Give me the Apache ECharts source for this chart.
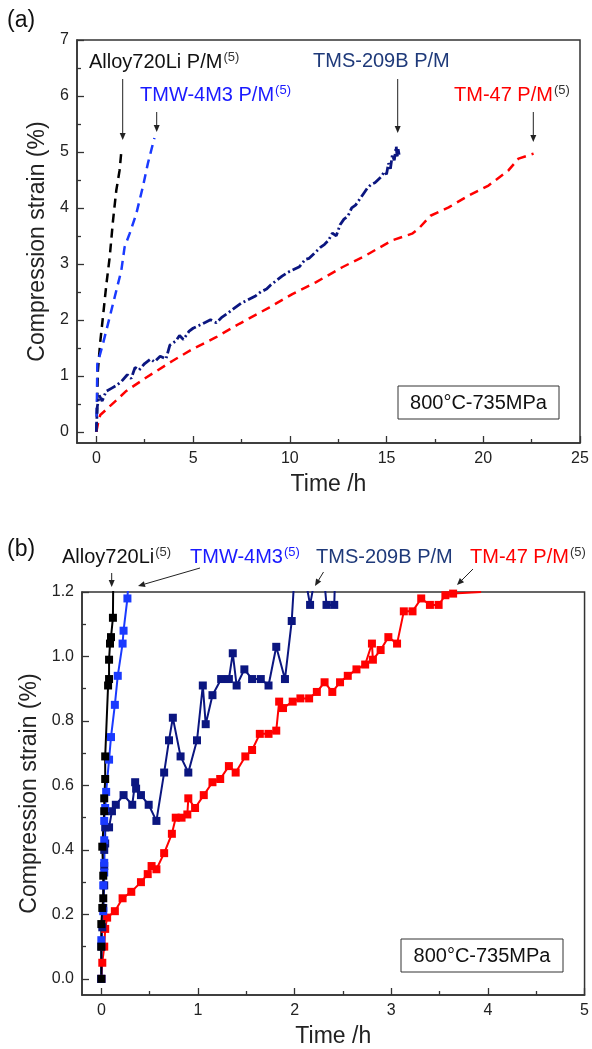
<!DOCTYPE html>
<html><head><meta charset="utf-8">
<script src="https://cdn.jsdelivr.net/npm/echarts@6/dist/echarts.min.js"></script>
<style>html,body{margin:0;padding:0;background:#fff}#c{width:592px;height:1049px}</style>
</head><body><div id="c"></div>
<script>
const FONT = '"Liberation Sans", Arial, Helvetica, sans-serif';

// ---------- Panel (a) data: [time h, strain %] ----------
const aAlloy720Li = [[0,0],[0.04,0.5],[0.08,1.09],[0.2,1.6],[0.34,2.05],[0.52,2.64],[0.69,3.12],[0.86,3.77],[1.03,4.31],[1.2,4.67],[1.29,5.0]];
const aTMW4M3 = [[0,0],[0.03,0.6],[0.05,1.21],[0.34,1.57],[0.69,2.05],[1.03,2.52],[1.29,2.88],[1.46,3.3],[1.72,3.54],[2.06,3.89],[2.4,4.37],[2.66,4.79],[3.0,5.25]];
const aTMS209B = [[0,0],[0.05,0.45],[0.15,0.65],[0.3,0.55],[0.5,0.72],[0.8,0.78],[1.0,0.82],[1.3,0.9],[1.6,1.02],[1.8,0.95],[2.0,1.15],[2.2,1.1],[2.5,1.22],[2.8,1.3],[3.0,1.25],[3.3,1.35],[3.6,1.3],[3.8,1.55],[4.1,1.62],[4.3,1.72],[4.5,1.65],[4.8,1.8],[5.0,1.85],[5.3,1.9],[5.6,1.95],[5.9,2.0],[6.2,1.95],[6.5,2.05],[6.8,2.12],[7.1,2.2],[7.5,2.3],[7.8,2.35],[8.2,2.42],[8.5,2.5],[8.8,2.55],[9.0,2.62],[9.3,2.7],[9.6,2.78],[9.9,2.85],[10.2,2.9],[10.5,2.95],[10.8,3.08],[11.0,3.1],[11.3,3.2],[11.6,3.3],[11.8,3.35],[12.0,3.42],[12.2,3.55],[12.4,3.5],[12.6,3.7],[12.8,3.8],[13.0,3.85],[13.2,4.0],[13.4,4.05],[13.6,4.15],[13.8,4.25],[14.0,4.35],[14.2,4.42],[14.4,4.45],[14.7,4.55],[14.9,4.65],[15.0,4.6],[15.1,4.8],[15.2,4.7],[15.3,4.95],[15.4,4.85],[15.5,5.1],[15.55,4.9],[15.6,5.05],[15.65,4.95]];
const aTM47 = [[0,0],[0.08,0.14],[0.2,0.3],[0.52,0.4],[1.55,0.73],[2.58,0.97],[3.95,1.27],[4.98,1.48],[6.19,1.69],[7.39,1.93],[8.93,2.22],[10.13,2.46],[11.34,2.67],[12.71,2.94],[13.92,3.15],[15.29,3.42],[16.32,3.54],[16.66,3.63],[17.27,3.86],[18.21,4.01],[19.24,4.22],[20.27,4.4],[21.3,4.67],[21.82,4.88],[22.6,4.97]];

// ---------- Panel (b) data ----------
const bAlloy720Li = [[0,0],[0,0.1],[0,0.17],[0.01,0.22],[0.02,0.25],[0.02,0.32],[0.01,0.41],[0.03,0.52],[0.03,0.56],[0.04,0.62],[0.04,0.69],[0.07,0.91],[0.08,0.93],[0.08,0.99],[0.09,1.04],[0.1,1.06],[0.12,1.12],[0.125,1.3]];
const bTMW4M3 = [[0,0],[0,0.12],[0.02,0.21],[0.02,0.29],[0.03,0.33],[0.03,0.36],[0.03,0.43],[0.03,0.49],[0.04,0.53],[0.05,0.58],[0.08,0.68],[0.1,0.75],[0.14,0.85],[0.17,0.94],[0.22,1.04],[0.23,1.08],[0.27,1.18],[0.285,1.26]];
const bTMS209B = [[0,0],[0,0.1],[0.01,0.16],[0.02,0.22],[0.03,0.29],[0.03,0.35],[0.03,0.4],[0.04,0.42],[0.04,0.47],[0.08,0.47],[0.11,0.52],[0.15,0.54],[0.23,0.57],[0.32,0.54],[0.35,0.61],[0.36,0.59],[0.41,0.57],[0.49,0.54],[0.57,0.49],[0.65,0.64],[0.7,0.74],[0.74,0.81],[0.82,0.69],[0.9,0.64],[0.99,0.74],[1.05,0.91],[1.08,0.79],[1.15,0.88],[1.24,0.93],[1.32,0.93],[1.36,1.01],[1.4,0.91],[1.48,0.96],[1.56,0.93],[1.65,0.93],[1.73,0.91],[1.81,1.03],[1.9,0.93],[1.97,1.11],[2.0,1.26],[2.1,1.26],[2.16,1.16],[2.22,1.26],[2.3,1.26],[2.33,1.16],[2.41,1.16],[2.42,1.26]];
const bTM47 = [[0,0],[0.01,0.05],[0.03,0.1],[0.04,0.155],[0.06,0.19],[0.14,0.21],[0.22,0.25],[0.31,0.27],[0.41,0.3],[0.48,0.325],[0.52,0.35],[0.57,0.34],[0.65,0.39],[0.73,0.45],[0.77,0.5],[0.83,0.5],[0.89,0.51],[0.9,0.56],[0.97,0.53],[1.06,0.57],[1.15,0.61],[1.23,0.62],[1.32,0.66],[1.39,0.64],[1.49,0.69],[1.56,0.71],[1.64,0.76],[1.73,0.76],[1.81,0.77],[1.84,0.86],[1.88,0.84],[1.98,0.86],[2.06,0.87],[2.15,0.87],[2.23,0.89],[2.31,0.92],[2.39,0.89],[2.47,0.92],[2.55,0.94],[2.64,0.96],[2.73,0.975],[2.8,1.04],[2.81,0.99],[2.89,1.02],[2.97,1.06],[3.06,1.04],[3.13,1.14],[3.22,1.14],[3.31,1.18],[3.4,1.16],[3.49,1.16],[3.56,1.19],[3.64,1.195],[3.93,1.2]];

// ---------- Tick values ----------
const aXTicks = [0,5,10,15,20,25];
const aXMinor = [2.5,7.5,12.5,17.5,22.5];
const aYTicks = [0,1,2,3,4,5,6,7];
const aYMinor = [0.5,1.5,2.5,3.5,4.5,5.5,6.5];
const bXTicks = [0,1,2,3,4,5];
const bXMinor = [0.5,1.5,2.5,3.5,4.5];
const bYTicks = [0,0.2,0.4,0.6,0.8,1.0,1.2];
const bYMinor = [0.1,0.3,0.5,0.7,0.9,1.1];

const AX = '#333';
function axisPair(dim, gridIndex, min, max, ticks, minor, fmt, name, nameGap) {
  const major = {
    type: 'value', gridIndex, min, max,
    axisLine: { show: true, onZero: false, lineStyle: { color: AX, width: 1.5 } },
    axisTick: { show: true, inside: true, length: 7, customValues: ticks, lineStyle: { color: AX, width: 1.3 } },
    axisLabel: { show: true, customValues: ticks, formatter: fmt, fontSize: 16, color: '#222', fontFamily: FONT, margin: 8 },
    splitLine: { show: false },
    name, nameLocation: 'middle', nameGap,
    nameTextStyle: { fontSize: 23, color: '#222', fontFamily: FONT }
  };
  const mnr = {
    type: 'value', gridIndex, min, max,
    axisLine: { show: false, onZero: false },
    axisTick: { show: true, inside: true, length: 4, customValues: minor, lineStyle: { color: AX, width: 1.3 } },
    axisLabel: { show: false },
    splitLine: { show: false }
  };
  if (dim === 'x') { major.position = 'bottom'; mnr.position = 'bottom'; }
  else { major.position = 'left'; mnr.position = 'left'; }
  return [major, mnr];
}
const intFmt = v => String(Math.round(v));
const oneFmt = v => v.toFixed(1);

const xAxes = [
  ...axisPair('x', 0, -1, 25, aXTicks, aXMinor, intFmt, 'Time /h', 30),
  ...axisPair('x', 1, -0.2, 5, bXTicks, bXMinor, intFmt, 'Time /h', 30)
];
const yAxes = [
  ...axisPair('y', 0, -0.2, 7, aYTicks, aYMinor, intFmt, 'Compression strain (%)', 27),
  ...axisPair('y', 1, -0.05, 1.2, bYTicks, bYMinor, oneFmt, 'Compression strain (%)', 32)
];

const BLACK = '#000000', BLUE = '#1a3aff', NAVY = '#0b1680', RED = '#ff0000';
function dashLine(data, color, dash, width, grid) {
  return { type: 'line', data, xAxisIndex: grid * 2, yAxisIndex: grid * 2, symbol: 'none',
    lineStyle: { color, width, type: dash }, animation: false, z: 3 };
}
function markLineS(data, color) {
  const d = data.map(p => (p[1] >= 1.2 ? { value: p, symbol: 'none' } : p));
  return { type: 'line', data: d, xAxisIndex: 2, yAxisIndex: 2, symbol: 'rect', symbolSize: 8,
    showAllSymbol: true, itemStyle: { color }, lineStyle: { color, width: 2 }, animation: false, z: 3 };
}

// ---------- annotations ----------
const mctx = document.createElement('canvas').getContext('2d');
function tw(t, size) { mctx.font = size + 'px ' + FONT; return mctx.measureText(t).width; }
function label(main, sup, x, cy, color, supColor) {
  const els = [{ type: 'text', x, y: cy, z: 100,
    style: { text: main, fill: color, fontSize: 20, fontFamily: FONT, verticalAlign: 'middle', align: 'left' } }];
  if (sup) {
    els.push({ type: 'text', x: x + tw(main, 20) + 1, y: cy - 5, z: 100,
      style: { text: sup, fill: supColor || '#333', fontSize: 13, fontFamily: FONT, verticalAlign: 'middle', align: 'left' } });
  }
  return els;
}
function arrow(x1, y1, x2, y2) {
  const a = Math.atan2(y2 - y1, x2 - x1), L = 7, W = 3;
  const bx = x2 - L * Math.cos(a), by = y2 - L * Math.sin(a);
  const px = -Math.sin(a) * W, py = Math.cos(a) * W;
  return [
    { type: 'line', z: 100, shape: { x1, y1, x2: bx, y2: by }, style: { stroke: '#222', lineWidth: 1 } },
    { type: 'polygon', z: 100, shape: { points: [[x2, y2], [bx + px, by + py], [bx - px, by - py]] }, style: { fill: '#222' } }
  ];
}
function condBox(x, y, w, h) {
  return [
    { type: 'rect', z: 100, shape: { x, y, width: w, height: h }, style: { fill: '#fff', stroke: '#333', lineWidth: 1 } },
    { type: 'text', z: 101, x: x + w / 2, y: y + h / 2 + 1,
      style: { text: '800°C-735MPa', fill: '#111', fontSize: 20, fontFamily: FONT, align: 'center', verticalAlign: 'middle' } }
  ];
}
const graphics = [
  { type: 'text', x: 7, y: 21, style: { text: '(a)', fill: '#111', fontSize: 23, fontFamily: FONT, verticalAlign: 'middle' } },
  { type: 'text', x: 7, y: 550, style: { text: '(b)', fill: '#111', fontSize: 23, fontFamily: FONT, verticalAlign: 'middle' } },
  ...label('Alloy720Li P/M', '(5)', 89, 62, '#111'),
  ...label('TMW-4M3 P/M', '(5)', 140, 95, '#1a1aff', '#1a1aff'),
  ...label('TMS-209B P/M', '', 313, 61, '#1f3a7a'),
  ...label('TM-47 P/M', '(5)', 454, 95, '#ff0000'),
  ...arrow(122.7, 79, 122.7, 140),
  ...arrow(156.7, 112, 156.7, 132),
  ...arrow(397.7, 79, 397.7, 133),
  ...arrow(533.3, 112, 533.3, 142),
  ...condBox(398, 386, 161, 33),
  ...label('Alloy720Li', '(5)', 62, 557, '#111'),
  ...label('TMW-4M3', '(5)', 190, 557, '#1a1aff', '#1a1aff'),
  ...label('TMS-209B P/M', '', 316, 557, '#1f3a7a'),
  ...label('TM-47 P/M', '(5)', 470, 557, '#ff0000'),
  ...arrow(111.7, 573, 111.7, 587),
  ...arrow(200, 568, 138, 586),
  ...arrow(323.5, 572, 315, 586),
  ...arrow(473, 569, 457, 585),
  ...condBox(401, 939, 162, 33)
];

const chart = echarts.init(document.getElementById('c'), null, { renderer: 'canvas' });
chart.setOption({
  animation: false,
  backgroundColor: '#fff',
  textStyle: { fontFamily: FONT },
  grid: [
    { left: 77, top: 40, width: 503, height: 403, show: true, borderColor: AX, borderWidth: 1.5, backgroundColor: 'transparent', containLabel: false },
    { left: 82, top: 592, width: 503, height: 403, show: true, borderColor: AX, borderWidth: 1.5, backgroundColor: 'transparent', containLabel: false }
  ],
  xAxis: xAxes,
  yAxis: yAxes,
  series: [
    dashLine(aAlloy720Li, BLACK, [9, 6], 2.5, 0),
    dashLine(aTMW4M3, BLUE, [9, 6], 2.5, 0),
    dashLine(aTM47, RED, [9, 6], 2.5, 0),
    dashLine(aTMS209B, NAVY, [10, 3, 2, 3], 2.8, 0),
    markLineS(bTM47, RED),
    markLineS(bTMS209B, NAVY),
    markLineS(bTMW4M3, BLUE),
    markLineS(bAlloy720Li, BLACK)
  ],
  graphic: graphics
});
</script></body></html>
